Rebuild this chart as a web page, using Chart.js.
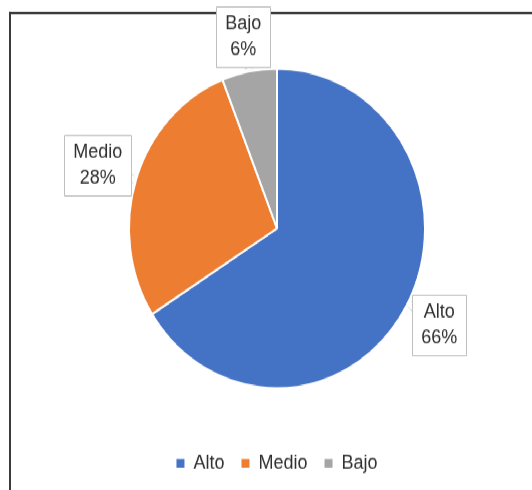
<!DOCTYPE html>
<html>
<head>
<meta charset="utf-8">
<script src="https://cdn.jsdelivr.net/npm/chart.js@4"></script>
<style>
  html { overflow: hidden; }
  body { margin: 0; padding: 0; background: #fff; width: 532px; height: 490px; }
  #wrap { position: relative; width: 532px; height: 454px; transform-origin: 0 0; transform: scaleY(1.08); }
  #frame { position: absolute; left: 9px; top: 11px; width: 530px; height: 450px;
           border-left: 2px solid #3c3c3c; border-top: 2px solid #3c3c3c; }
  #chart { position: absolute; left: 0; top: 0; }
</style>
</head>
<body>
<div id="wrap">
  <div id="frame"></div>
  <canvas id="chart" width="532" height="454" style="width:532px;height:454px"></canvas>
</div>
<script>
// data
const categories = ["Alto", "Medio", "Bajo"];
const values = [66, 28, 6];
const colors = ["#4472C4", "#ED7D31", "#A5A5A5"];

const FONT = '"Liberation Sans", Arial, sans-serif';
const TEXT = "#303030";

// callout labels like the excel ones
const calloutLabels = {
  id: "calloutLabels",
  afterDatasetsDraw(chart) {
    const ctx = chart.ctx;
    const meta = chart.getDatasetMeta(0);
    const total = values.reduce((a, b) => a + b, 0);
    const cl = (v, a, b) => Math.min(Math.max(v, a), b);
    ctx.save();
    ctx.font = "18px " + FONT;
    meta.data.forEach((arc, i) => {
      const p = arc.getProps(["x", "y", "startAngle", "endAngle", "outerRadius"], true);
      const mid = (p.startAngle + p.endAngle) / 2;
      const ux = Math.cos(mid), uy = Math.sin(mid);
      const lines = [categories[i], Math.round(values[i] / total * 100) + "%"];
      const w = Math.round(Math.max(...lines.map(t => ctx.measureText(t).width)) + 18);
      const h = 56;
      const d = p.outerRadius + (w / 2) * Math.abs(ux) + (h / 2) * Math.abs(uy);
      const cx = p.x + d * ux, cy = p.y + d * uy;
      const left = Math.round(cx - w / 2) + 0.5, top = Math.round(cy - h / 2) + 0.5;
      const right = left + w, bottom = top + h;
      const tx = p.x + (p.outerRadius + 1) * ux, ty = p.y + (p.outerRadius + 1) * uy;

      ctx.fillStyle = "#fff";
      ctx.strokeStyle = "#bfbfbf";
      ctx.lineWidth = 1;
      ctx.beginPath();
      ctx.rect(left, top, w, h);
      ctx.fill();
      ctx.stroke();

      // tail
      let b1 = null, b2 = null;
      if (tx > right + 1) {
        const yy = cl(ty, top + 7, bottom - 7);
        b1 = [right, yy - 5]; b2 = [right, yy + 5];
      } else if (tx < left - 1) {
        const yy = cl(ty, top + 7, bottom - 7);
        b1 = [left, yy - 5]; b2 = [left, yy + 5];
      } else if (ty > bottom + 1) {
        const xx = cl(tx, left + 7, right - 7);
        b1 = [xx - 5, bottom]; b2 = [xx + 5, bottom];
      } else if (ty < top - 1) {
        const xx = cl(tx, left + 7, right - 7);
        b1 = [xx - 5, top]; b2 = [xx + 5, top];
      }
      if (b1) {
        ctx.beginPath();
        ctx.moveTo(b1[0], b1[1]);
        ctx.lineTo(tx, ty);
        ctx.lineTo(b2[0], b2[1]);
        ctx.stroke();
        ctx.beginPath();
        ctx.moveTo(b1[0] - ux, b1[1] - uy + 0.5);
        ctx.lineTo(tx - ux, ty - uy);
        ctx.lineTo(b2[0] - ux, b2[1] - uy - 0.5);
        ctx.closePath();
        ctx.fill();
      }

      ctx.fillStyle = TEXT;
      ctx.textAlign = "center";
      ctx.textBaseline = "middle";
      ctx.fillText(lines[0], cx, cy - 12);
      ctx.fillText(lines[1], cx, cy + 12);
    });
    ctx.restore();
  }
};

const chart = document.querySelector("#chart").getContext("2d");

new Chart(chart, {
  type: "pie",
  data: {
    labels: categories,
    datasets: [
      {
        data: values,
        backgroundColor: colors,
        borderColor: "#ffffff",
        borderWidth: 2,
        radius: 148,
      }
    ]
  },
  options: {
    responsive: false,
    animation: false,
    layout: { padding: { left: 22, right: 0, top: 20, bottom: 6 } },
    plugins: {
      legend: {
        position: "bottom",
        labels: {
          boxWidth: 8,
          boxHeight: 8,
          padding: 17,
          color: TEXT,
          font: { family: FONT, size: 18 },
          generateLabels(chart) {
            return categories.map((c, i) => ({
              text: c,
              fillStyle: colors[i],
              strokeStyle: colors[i],
              lineWidth: 0,
              fontColor: TEXT,
              index: i
            }));
          }
        }
      },
      tooltip: { enabled: false }
    }
  },
  plugins: [calloutLabels]
});
</script>
</body>
</html>
